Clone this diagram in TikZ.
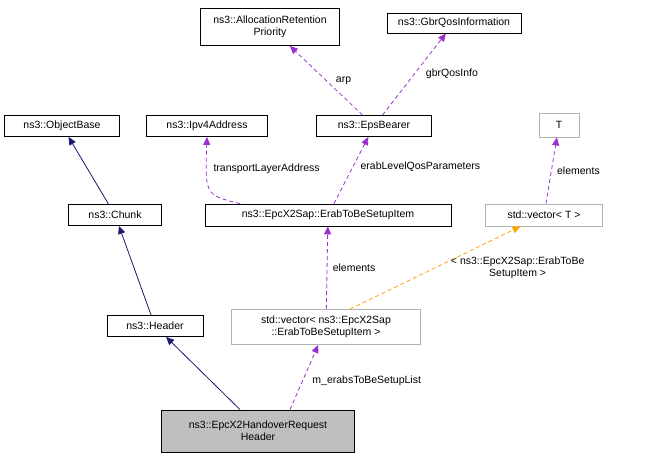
\documentclass[tikz,border=0pt]{standalone}
\usepackage{fontspec}
\setmainfont{Liberation Sans}
\usetikzlibrary{arrows.meta}
\definecolor{inhblue}{RGB}{25, 25, 112}
\definecolor{usepurple}{RGB}{153, 50, 204}
\definecolor{tmplorange}{RGB}{255, 165, 0}

\begin{document}
\begin{tikzpicture}[x=1pt, y=-1pt, font=\fontsize{10.5}{12}\selectfont,
    cls/.style={draw, fill=white, line width=0.8pt, inner sep=2pt, align=center},
    tmpl/.style={draw=gray!60, fill=white, line width=0.8pt, inner sep=2pt, align=center},
    inh/.style={draw=inhblue, line width=0.8pt, -{Triangle[length=8pt, width=7pt, fill=inhblue]}},
    use/.style={draw=usepurple, line width=0.8pt, dash pattern=on 4pt off 3pt, -{Triangle[length=8pt, width=7pt, fill=usepurple]}},
    inst/.style={draw=tmplorange, line width=0.8pt, dash pattern=on 4pt off 3pt, -{Triangle[length=8pt, width=7pt, fill=tmplorange]}},
    lbl/.style={align=center}]
    \useasboundingbox (0,0) rectangle (649,461);

    % top row
    \node[cls, minimum width=139pt, minimum height=37pt] (arp) at (270,27) {ns3::AllocationRetention\\Priority};
    \node[cls, minimum width=134pt, minimum height=20pt] (gbr) at (454,23) {ns3::GbrQosInformation};

    % second row
    \node[cls, minimum width=115pt, minimum height=21pt] (objbase) at (62,126) {ns3::ObjectBase};
    \node[cls, minimum width=121pt, minimum height=21pt] (ipv4) at (207,126) {ns3::Ipv4Address};
    \node[cls, minimum width=115pt, minimum height=21pt] (eps) at (374,126) {ns3::EpsBearer};
    \node[tmpl, minimum width=40pt, minimum height=24pt] (t) at (559,125) {T};

    % third row
    \node[cls, minimum width=93pt, minimum height=21pt] (chunk) at (115,215) {ns3::Chunk};
    \node[cls, minimum width=246pt, minimum height=22pt] (item) at (328,215) {ns3::EpcX2Sap::ErabToBeSetupItem};
    \node[tmpl, minimum width=117pt, minimum height=22pt] (vect) at (544,215) {std::vector< T >};

    % fourth row
    \node[cls, minimum width=96pt, minimum height=21pt] (header) at (155,326) {ns3::Header};
    \node[tmpl, minimum width=189pt, minimum height=35pt] (vecitem) at (326,327) {std::vector< ns3::EpcX2Sap\\::ErabToBeSetupItem >};

    % bottom
    \node[cls, fill=gray!50, minimum width=193pt, minimum height=42pt] (hrh) at (258,431) {ns3::EpcX2HandoverRequest\\Header};

    % inheritance
    \draw[inh] (chunk) -- (objbase);
    \draw[inh] (header) -- (chunk);
    \coordinate (h1) at ([xshift=-18pt]hrh.north);
    \draw[inh] (h1) -- (header);

    % usage
    \coordinate (h2) at ([xshift=32pt]hrh.north);
    \draw[use] (h2) -- (vecitem)
        node[lbl, pos=0.45, right=6pt] {m\_erabsToBeSetupList};
    \draw[use] (vecitem) -- (item) node[lbl, midway, right=2pt] {elements};
    \coordinate (i1) at ([xshift=-88pt]item.north);
    \draw[use] (i1) .. controls (205,195) .. (ipv4.south);
    \node[lbl, anchor=west] (tla) at (210,169) {transportLayerAddress};
    \draw[use] (item) -- (eps) node[lbl, pos=0.55, right=4pt] {erabLevelQosParameters};
    \draw[use] (eps) -- (arp) node[lbl, midway, right=6pt] {arp};
    \draw[use] (eps) -- (gbr) node[lbl, midway, right=8pt] {gbrQosInfo};
    \draw[use] (vect) -- (t) node[lbl, midway, right=2pt] {elements};

    % template instance
    \coordinate (v1) at ([xshift=24pt]vecitem.north);
    \draw[inst] (v1) -- (vect)
        node[lbl, pos=0.5, right=12pt] {< ns3::EpcX2Sap::ErabToBe\\SetupItem >};
\end{tikzpicture}
\end{document}
